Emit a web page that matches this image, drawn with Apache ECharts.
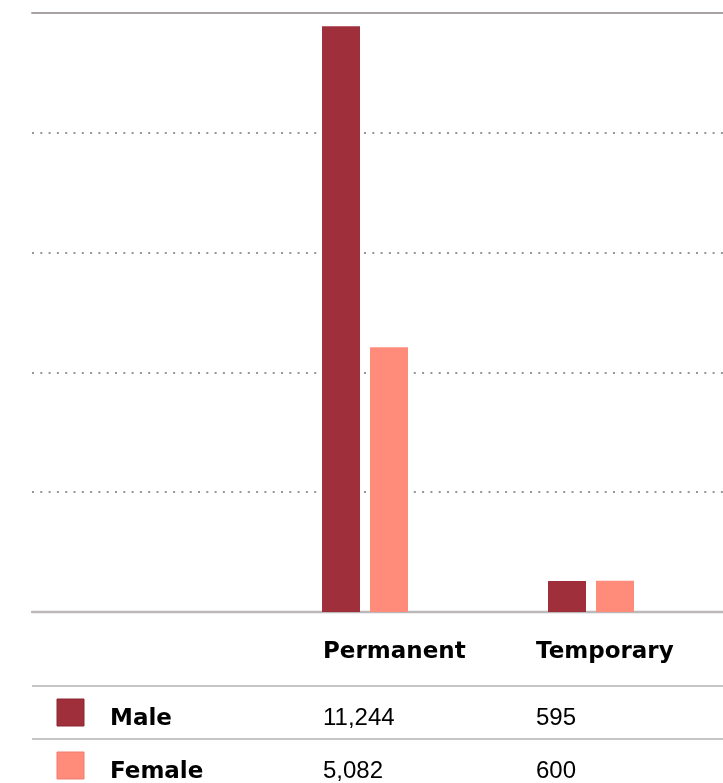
<!DOCTYPE html>
<html>
<head>
<meta charset="utf-8">
<script src="https://cdn.jsdelivr.net/npm/echarts@6/dist/echarts.min.js"></script>
<style>
  html, body { margin: 0; padding: 0; background: #ffffff; }
  #chart { width: 723px; height: 783px; }
</style>
</head>
<body>
<div id="chart"></div>
<script>
// Employment type by gender
const categories = ['Permanent', 'Temporary'];
const seriesNames = ['Male', 'Female'];
const maleValues = [11244, 595];
const femaleValues = [5082, 600];
const axisMax = 11500;
const axisStep = 2300;

const seriesColors = ['#9e2f3b', '#ff8b7b'];
const swatchBorders = ['#8a2733', '#f27d6e'];

// layout of the plot and the data table below it
const plotLeft = 32;
const plotTop = 13;
const plotBottom = 612;
const barBandLeft = 252;
const barBandRight = 704;
const tableColX = [323, 536];
const rowLineY = [686, 739];
const headerBaseline = 659;
const rowBaselines = [725.5, 778.5];
const swatchX = 57;
const swatchSize = 27;
const labelX = 110;

const boldFont = 'DejaVu Sans';
const regularFont = 'Liberation Sans';
const boldSize = 23;
const regularSize = 24;

const W = 723, H = 783;
const chart = echarts.init(document.getElementById('chart'), null, { renderer: 'canvas' });

const fmt = v => v.toLocaleString('en-US');
const rows = [maleValues, femaleValues];

// text helper: y is the baseline, converted to the middle of the em box
function textEl(str, x, baseline, bold) {
  const size = bold ? boldSize : regularSize;
  const mid = bold ? 0.297 : 0.31;
  return {
    type: 'text',
    silent: true,
    style: {
      text: str,
      x: x,
      y: baseline - mid * size,
      fill: '#000000',
      fontFamily: bold ? boldFont : regularFont,
      fontWeight: bold ? 'bold' : 'normal',
      fontSize: size,
      align: 'left',
      verticalAlign: 'middle'
    }
  };
}

const graphic = [];
rowLineY.forEach(y => {
  graphic.push({
    type: 'line', silent: true,
    shape: { x1: plotLeft, y1: y, x2: W, y2: y },
    style: { stroke: '#b4b2b3', lineWidth: 1.6 }
  });
});
categories.forEach((c, i) => graphic.push(textEl(c, tableColX[i], headerBaseline, true)));
seriesNames.forEach((name, r) => {
  const rowTop = rowLineY[r] + 13;
  graphic.push({
    type: 'rect', silent: true,
    shape: { x: swatchX, y: rowTop, width: swatchSize, height: swatchSize },
    style: { fill: seriesColors[r], stroke: swatchBorders[r], lineWidth: 1 }
  });
  graphic.push(textEl(name, labelX, rowBaselines[r], true));
  rows[r].forEach((v, i) => graphic.push(textEl(fmt(v), tableColX[i], rowBaselines[r], false)));
});

const hiddenAxis = {
  axisLine: { show: false }, axisTick: { show: false },
  axisLabel: { show: false }, splitLine: { show: false }
};

const option = {
  backgroundColor: '#ffffff',
  animation: false,
  grid: [
    // full-width frame carrying the dotted guides
    { left: plotLeft, right: 0, top: plotTop, bottom: H - plotBottom, containLabel: false },
    // bar area
    { left: barBandLeft, right: W - barBandRight, top: plotTop, bottom: H - plotBottom, containLabel: false }
  ],
  xAxis: [
    {
      gridIndex: 0, type: 'category', data: [''], position: 'bottom',
      axisLine: { show: true, onZero: false, lineStyle: { color: '#bdb9bb', width: 2.4 } },
      axisTick: { show: false }, axisLabel: { show: false }, splitLine: { show: false }
    },
    {
      gridIndex: 0, type: 'category', data: [''], position: 'top',
      axisLine: { show: true, onZero: false, lineStyle: { color: '#a9a2a5', width: 2 } },
      axisTick: { show: false }, axisLabel: { show: false }, splitLine: { show: false }
    },
    Object.assign({ gridIndex: 1, type: 'category', data: categories, boundaryGap: true }, hiddenAxis)
  ],
  yAxis: [
    {
      gridIndex: 0, type: 'value', min: 0, max: axisMax, interval: axisStep,
      axisLine: { show: false }, axisTick: { show: false }, axisLabel: { show: false },
      splitLine: { show: true, lineStyle: { color: '#9a9698', width: 2, type: [2, 6.3] } }
    },
    Object.assign({ gridIndex: 1, type: 'value', min: 0, max: axisMax, interval: axisStep }, hiddenAxis)
  ],
  series: [
    {
      name: seriesNames[0], type: 'bar', xAxisIndex: 2, yAxisIndex: 1,
      data: maleValues, barWidth: 38, barGap: '26.3%',
      itemStyle: { color: seriesColors[0] }, z: 3
    },
    {
      name: seriesNames[1], type: 'bar', xAxisIndex: 2, yAxisIndex: 1,
      data: femaleValues, barWidth: 38, barGap: '26.3%',
      itemStyle: { color: seriesColors[1] }, z: 3
    }
  ],
  graphic: graphic
};

chart.setOption(option);
</script>
</body>
</html>
